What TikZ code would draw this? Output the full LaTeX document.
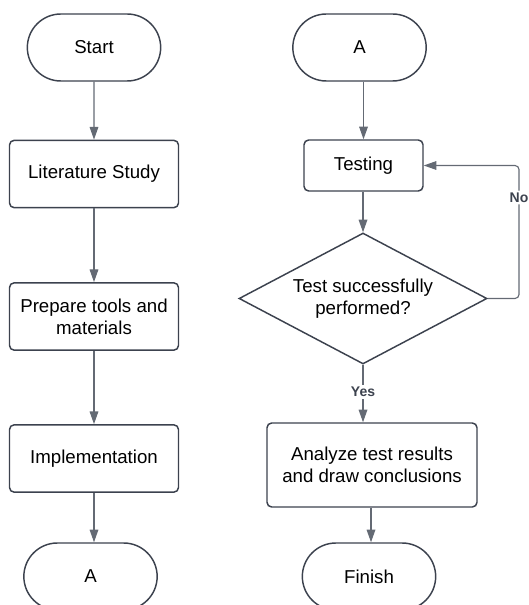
\documentclass[tikz,border=0pt]{standalone}
\usepackage{fontspec}
\setmainfont{Liberation Sans}
\usetikzlibrary{shapes.geometric,shapes.misc,arrows.meta}
\definecolor{borde}{RGB}{60,66,78}
\definecolor{linea}{RGB}{100,106,116}
\begin{document}
\begin{tikzpicture}[x=0.75pt,y=-0.75pt,
        font=\fontsize{14}{16.5}\selectfont,
        terminal/.style={rounded rectangle,draw=borde,line width=1.1pt,minimum width=100pt,minimum height=50.25pt,inner sep=0pt},
        proceso/.style={rectangle,rounded corners=3.5pt,draw=borde,line width=1.1pt,minimum width=126.75pt,minimum height=50.5pt,align=center},
        decision/.style={diamond,aspect=1.9,draw=borde,line width=1.1pt,minimum width=186pt,minimum height=98.25pt,inner sep=0pt,align=center},
        flecha/.style={-{Stealth[inset=0pt,length=9.5pt,width=6.5pt]},draw=linea,line width=0.85pt},
        etiqueta/.style={fill=white,inner sep=1.5pt,text=borde,font=\bfseries\fontsize{10.5}{12}\selectfont}]
        % Marco (la imagen original esta recortada)
        \useasboundingbox (0,0) rectangle (528,605);
        \clip (0,0) rectangle (528,605);

        % Columna izquierda
        \node[terminal] (inicio) at (94,47.5) {Start};
        \node[proceso] (estudio) at (94,174) {Literature Study};
        \node[proceso] (prep) at (94,316.5) {Prepare tools and\\materials};
        \node[proceso] (impl) at (94,458.5) {Implementation};
        \node[terminal] (conA) at (90.5,576.5) {A};

        % Columna derecha
        \node[terminal] (contA) at (359.5,47.5) {A};
        \node[proceso,minimum width=89.25pt,minimum height=38.25pt] (prueba) at (363.5,165.5) {Testing};
        \node[decision] (dec) at (363,298.5) {Test successfully\\performed?};
        \node[proceso,minimum width=157.5pt,minimum height=63pt] (analisis) at (372,465) {Analyze test results\\and draw conclusions};
        \node[terminal] (fin) at (369,576.5) {Finish};
        \coordinate (esq) at (519,165.5);

        % Flechas
        \draw[flecha] (inicio) -- (estudio);
        \draw[flecha] (estudio) -- (prep);
        \draw[flecha] (prep) -- (impl);
        \draw[flecha] (impl.south) -- (impl.south |- conA.north);
        \draw[flecha] (prueba.north |- contA.south) -- (prueba.north);
        \draw[flecha] (prueba.south -| dec.north) -- (dec.north);
        \draw[flecha] (dec.south) -- node[etiqueta,pos=0.47] {Yes} (dec.south |- analisis.north);
        \draw[flecha] (analisis.south -| 371,0) -- (371,0 |- fin.north);
        \draw[flecha,rounded corners=3pt] (dec.east) -| node[etiqueta,pos=0.88] {No} (esq) -- (prueba.east);
        \end{tikzpicture}
\end{document}
